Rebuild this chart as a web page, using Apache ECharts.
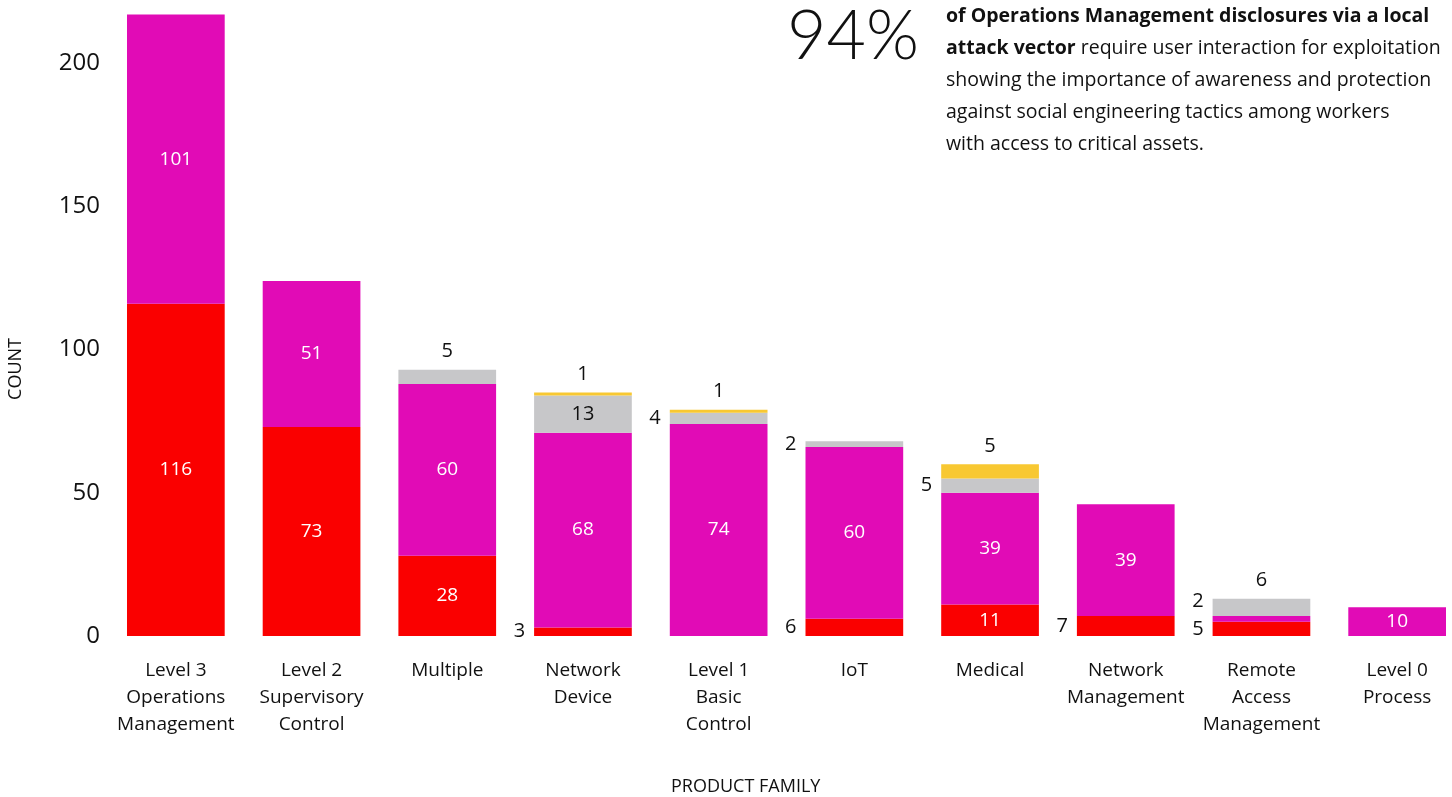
<!DOCTYPE html>
<html>
<head>
<meta charset="utf-8">
<script src="https://cdn.jsdelivr.net/npm/echarts@6/dist/echarts.min.js"></script>
<style>
  html, body { margin: 0; padding: 0; background: #fff; }
  #chart { width: 1452px; height: 797px; }
</style>
</head>
<body>
<div id="chart"></div>
<script>
// 产品类别
const categories = [
    'Level 3\nOperations\nManagement',
    'Level 2\nSupervisory\nControl',
    'Multiple',
    'Network\nDevice',
    'Level 1\nBasic\nControl',
    'IoT',
    'Medical',
    'Network\nManagement',
    'Remote\nAccess\nManagement',
    'Level 0\nProcess'
]

// 各系列数值（自下而上堆叠）
const redValues = [116, 73, 28, 3, 0, 6, 11, 7, 5, 0]
const magentaValues = [101, 51, 60, 68, 74, 60, 39, 39, 2, 10]
const grayValues = [0, 0, 5, 13, 4, 2, 5, 0, 6, 0]
const yellowValues = [0, 0, 0, 1, 1, 0, 5, 0, 0, 0]

const yTicks = [0, 50, 100, 150, 200]

// 标签放置方式: in = 内部白字, dark = 内部黑字, top / left = 外部, leftUp = 左侧上移
const redPlaces = ['in', 'in', 'in', 'left', '', 'left', 'in', 'left', 'left', '']
const magentaPlaces = ['in', 'in', 'in', 'in', 'in', 'in', 'in', 'in', 'leftUp', 'in']
const grayPlaces = ['', '', 'top', 'dark', 'left', 'left', 'left', '', 'top', '']
const yellowPlaces = ['', '', '', 'top', 'top', '', 'top', '', '', '']

const FONT = 'Open Sans'

function labelStyle(place) {
    if (!place) return {show: false}
    let base = {show: true, fontFamily: FONT, fontSize: 20}
    if (place === 'in') return {...base, position: 'inside', color: '#fff', fontSize: 19}
    if (place === 'dark') return {...base, position: 'inside', color: '#111'}
    if (place === 'top') return {...base, position: 'top', distance: 8, color: '#111'}
    if (place === 'left') return {...base, position: 'left', distance: 9, color: '#111'}
    if (place === 'leftUp') return {...base, position: 'left', distance: 9, color: '#111', offset: [0, -18]}
    return {show: false}
}

function makeSeries(name, values, color, places) {
    return {
        name: name,
        type: 'bar',
        stack: 'total',
        barWidth: '72%',
        itemStyle: {color: color},
        data: values.map((v, i) => ({value: v, label: labelStyle(places[i])}))
    }
}

let chartDom = document.getElementById('chart');
let myChart = echarts.init(chartDom);
let option;

option = {
    animation: false,
    grid: {
        left: 108,
        width: 1357,
        top: 6,
        bottom: 161,
        containLabel: false,
        outerBoundsMode: 'none'
    },
    xAxis: {
        type: 'category',
        data: categories,
        axisLine: {show: false},
        axisTick: {show: false},
        axisLabel: {
            interval: 0,
            margin: 21,
            fontFamily: FONT,
            fontSize: 19,
            lineHeight: 27,
            color: '#111'
        }
    },
    yAxis: {
        type: 'value',
        min: yTicks[0],
        max: 220,
        interval: yTicks[1] - yTicks[0],
        splitLine: {show: false},
        axisLine: {show: false},
        axisTick: {show: false},
        axisLabel: {
            showMaxLabel: false,
            margin: 8,
            fontFamily: FONT,
            fontSize: 24,
            color: '#111'
        }
    },
    graphic: [
        {
            type: 'text',
            left: 7,
            top: 338,
            rotation: Math.PI / 2,
            style: {text: 'COUNT', fontFamily: FONT, fontSize: 18, fill: '#111'}
        },
        {
            type: 'text',
            left: 671,
            top: 778,
            style: {text: 'PRODUCT FAMILY', fontFamily: FONT, fontSize: 18, fill: '#111'}
        },
        {
            type: 'text',
            left: 787,
            top: 3,
            style: {text: '94%', fontFamily: 'Lato', fontWeight: 300, fontSize: 68, fill: '#111'}
        },
        {
            type: 'text',
            left: 946,
            top: 0,
            style: {
                text: '{b|of Operations Management disclosures via a local}\n' +
                    '{b|attack vector} require user interaction for exploitation\n' +
                    'showing the importance of awareness and protection\n' +
                    'against social engineering tactics among workers\n' +
                    'with access to critical assets.',
                fontFamily: FONT,
                fontSize: 19.5,
                lineHeight: 32,
                fill: '#111',
                rich: {
                    b: {fontFamily: FONT, fontSize: 19.5, fontWeight: 'bold', lineHeight: 32, fill: '#111'}
                }
            }
        }
    ],
    series: [
        makeSeries('Red', redValues, '#fa0000', redPlaces),
        makeSeries('Magenta', magentaValues, '#e10bb6', magentaPlaces),
        makeSeries('Gray', grayValues, '#c7c7c9', grayPlaces),
        makeSeries('Yellow', yellowValues, '#f8c832', yellowPlaces)
    ]
};

option && myChart.setOption(option);
</script>
</body>
</html>
